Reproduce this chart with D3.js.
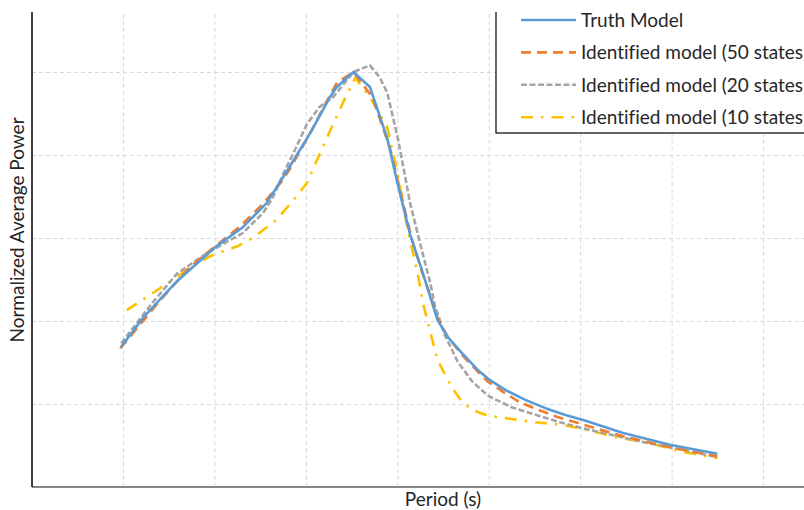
<!DOCTYPE html>
<html>
<head>
<meta charset="utf-8">
<script src="https://cdn.jsdelivr.net/npm/d3@7"></script>
<style>
  body { margin: 0; background: white; }
  svg { display: block; font-family: Lato, "Open Sans", sans-serif; font-variant-ligatures: none; }
  .grid line { stroke: #d9d9d9; stroke-dasharray: 4,3; stroke-width: 1; }
  .grid path { display: none; }
</style>
</head>
<body>
<div class="chart"></div>
<script>
// period (grid units) and normalized power for each series
var truthX = [0.98, 1.22, 1.59, 2.01, 2.31, 2.57, 2.80, 3.05, 3.26, 3.33, 3.52, 3.70, 3.89, 4.00, 4.14, 4.27, 4.36, 4.44, 4.55, 4.71, 4.88, 5.01, 5.18, 5.40, 5.62, 5.83, 6.05, 6.47, 6.98, 7.50];
var truthY = [1.69, 2.04, 2.48, 2.89, 3.13, 3.42, 3.82, 4.27, 4.69, 4.81, 5.00, 4.82, 4.20, 3.67, 3.04, 2.61, 2.29, 2.01, 1.81, 1.61, 1.41, 1.29, 1.17, 1.05, 0.95, 0.87, 0.80, 0.65, 0.51, 0.40];

var s50X = [0.97, 1.40, 1.73, 2.01, 2.28, 2.53, 2.72, 2.83, 3.05, 3.21, 3.34, 3.52, 3.73, 3.92, 4.03, 4.16, 4.27, 4.36, 4.44, 4.55, 4.71, 4.88, 4.99, 5.18, 5.34, 5.54, 5.76, 5.98, 6.47, 6.98, 7.50];
var s50Y = [1.67, 2.24, 2.65, 2.90, 3.14, 3.41, 3.66, 3.84, 4.27, 4.61, 4.87, 5.00, 4.69, 4.08, 3.58, 2.98, 2.59, 2.31, 2.04, 1.81, 1.59, 1.39, 1.27, 1.13, 1.02, 0.93, 0.84, 0.77, 0.61, 0.48, 0.37];

var s20X = [0.98, 1.30, 1.59, 1.92, 2.31, 2.53, 2.64, 2.75, 2.88, 3.01, 3.15, 3.30, 3.52, 3.70, 3.81, 3.89, 4.01, 4.14, 4.28, 4.36, 4.41, 4.52, 4.66, 4.82, 4.99, 5.25, 5.54, 5.78, 6.02, 6.22, 6.65, 7.02, 7.50];
var s20Y = [1.73, 2.19, 2.57, 2.82, 3.06, 3.30, 3.49, 3.77, 4.06, 4.37, 4.58, 4.70, 5.00, 5.08, 4.93, 4.75, 4.18, 3.42, 2.80, 2.46, 2.19, 1.83, 1.51, 1.27, 1.10, 0.96, 0.86, 0.78, 0.71, 0.66, 0.55, 0.47, 0.36];

var s10X = [1.04, 1.33, 1.59, 1.77, 1.95, 2.25, 2.42, 2.68, 2.88, 3.01, 3.13, 3.26, 3.41, 3.54, 3.72, 3.89, 4.00, 4.11, 4.22, 4.28, 4.36, 4.44, 4.60, 4.72, 4.82, 4.99, 5.18, 5.51, 5.80, 6.03, 6.40, 6.76, 7.09, 7.50];
var s10Y = [2.13, 2.34, 2.53, 2.67, 2.78, 2.90, 3.00, 3.22, 3.48, 3.66, 3.96, 4.28, 4.64, 4.93, 4.66, 4.33, 3.80, 3.12, 2.59, 2.22, 1.87, 1.53, 1.19, 1.01, 0.93, 0.86, 0.83, 0.78, 0.75, 0.70, 0.60, 0.53, 0.43, 0.35];

var xTicks = [1, 2, 3, 4, 5, 6, 7, 8];
var yTicks = [1, 2, 3, 4, 5];

var seriesNames = ["Truth Model", "Identified model (50 states", "Identified model (20 states", "Identified model (10 states"];
var seriesColors = ["#5b9bd5", "#ed7d31", "#a5a5a5", "#ffc000"];
var seriesDash = ["none", "10,6", "6,2.5", "12,8,2.5,8"];

var width = 804, height = 510;
var plotTop = 12, plotBottom = 487, plotLeft = 32;

var x = d3.scaleLinear().domain([0, 8.5]).range([31.6, 31.6 + 8.5 * 91.43]);
var y = d3.scaleLinear().domain([0, 5]).range([plotBottom, plotBottom - 5 * 83]);

var svg = d3.select(".chart")
    .append("svg")
    .attr("width", width)
    .attr("height", height);

// gridlines
svg.append("g")
    .attr("class", "grid")
    .attr("transform", "translate(0," + plotBottom + ")")
    .call(d3.axisBottom(x).tickValues(xTicks).tickFormat("").tickSize(-(plotBottom - plotTop)));

svg.append("g")
    .attr("class", "grid")
    .attr("transform", "translate(" + plotLeft + ",0)")
    .call(d3.axisLeft(y).tickValues(yTicks).tickFormat("").tickSize(-(width - plotLeft)));

// series
var series = [
    {xs: truthX, ys: truthY},
    {xs: s50X, ys: s50Y},
    {xs: s20X, ys: s20Y},
    {xs: s10X, ys: s10Y}
];

var line = d3.line()
    .x(function(d) { return x(d[0]); })
    .y(function(d) { return y(d[1]); });

// back to front, truth line on top
[3, 2, 1, 0].forEach(function(i) {
    var pts = d3.zip(series[i].xs, series[i].ys);
    svg.append("path")
        .attr("d", line(pts))
        .attr("fill", "none")
        .attr("stroke", seriesColors[i])
        .attr("stroke-width", 2.6)
        .attr("stroke-dasharray", seriesDash[i])
        .attr("stroke-linejoin", "round");
});

// axis lines
svg.append("line")
    .attr("x1", plotLeft).attr("x2", width)
    .attr("y1", plotBottom).attr("y2", plotBottom)
    .attr("stroke", "#868686")
    .attr("stroke-width", 2);

svg.append("line")
    .attr("x1", plotLeft).attr("x2", plotLeft)
    .attr("y1", plotTop).attr("y2", plotBottom)
    .attr("stroke", "#000")
    .attr("stroke-width", 1.5);

// axis titles
svg.append("text")
    .attr("x", 443)
    .attr("y", 506)
    .attr("text-anchor", "middle")
    .style("font-size", "19px")
    .attr("fill", "#262626")
    .text("Period (s)");

svg.append("text")
    .attr("transform", "translate(24,230) rotate(-90)")
    .attr("text-anchor", "middle")
    .style("font-size", "19px")
    .attr("fill", "#262626")
    .text("Normalized Average Power");

// legend
var legend = svg.append("g");

legend.append("rect")
    .attr("x", 496)
    .attr("y", -5)
    .attr("width", 400)
    .attr("height", 138)
    .attr("fill", "white")
    .attr("stroke", "#000")
    .attr("stroke-width", 1.2);

// page crop above the plot
svg.append("rect")
    .attr("x", 0)
    .attr("y", 0)
    .attr("width", width)
    .attr("height", plotTop)
    .attr("fill", "white");

var legendRow = legend.selectAll(".legendRow")
    .data(seriesNames)
    .enter().append("g")
    .attr("class", "legendRow")
    .attr("transform", function(d, i) {
        return "translate(0, " + (20 + i * 32.4) + ")";
    });

legendRow.append("line")
    .attr("x1", 521)
    .attr("x2", 576)
    .attr("y1", 0)
    .attr("y2", 0)
    .attr("stroke", function(d, i) { return seriesColors[i]; })
    .attr("stroke-width", 2.6)
    .attr("stroke-dasharray", function(d, i) { return seriesDash[i]; });

legendRow.append("text")
    .attr("x", 581)
    .attr("y", 7)
    .text(function(d) { return d; })
    .style("font-size", "19px")
    .attr("fill", "#262626");
</script>
</body>
</html>
